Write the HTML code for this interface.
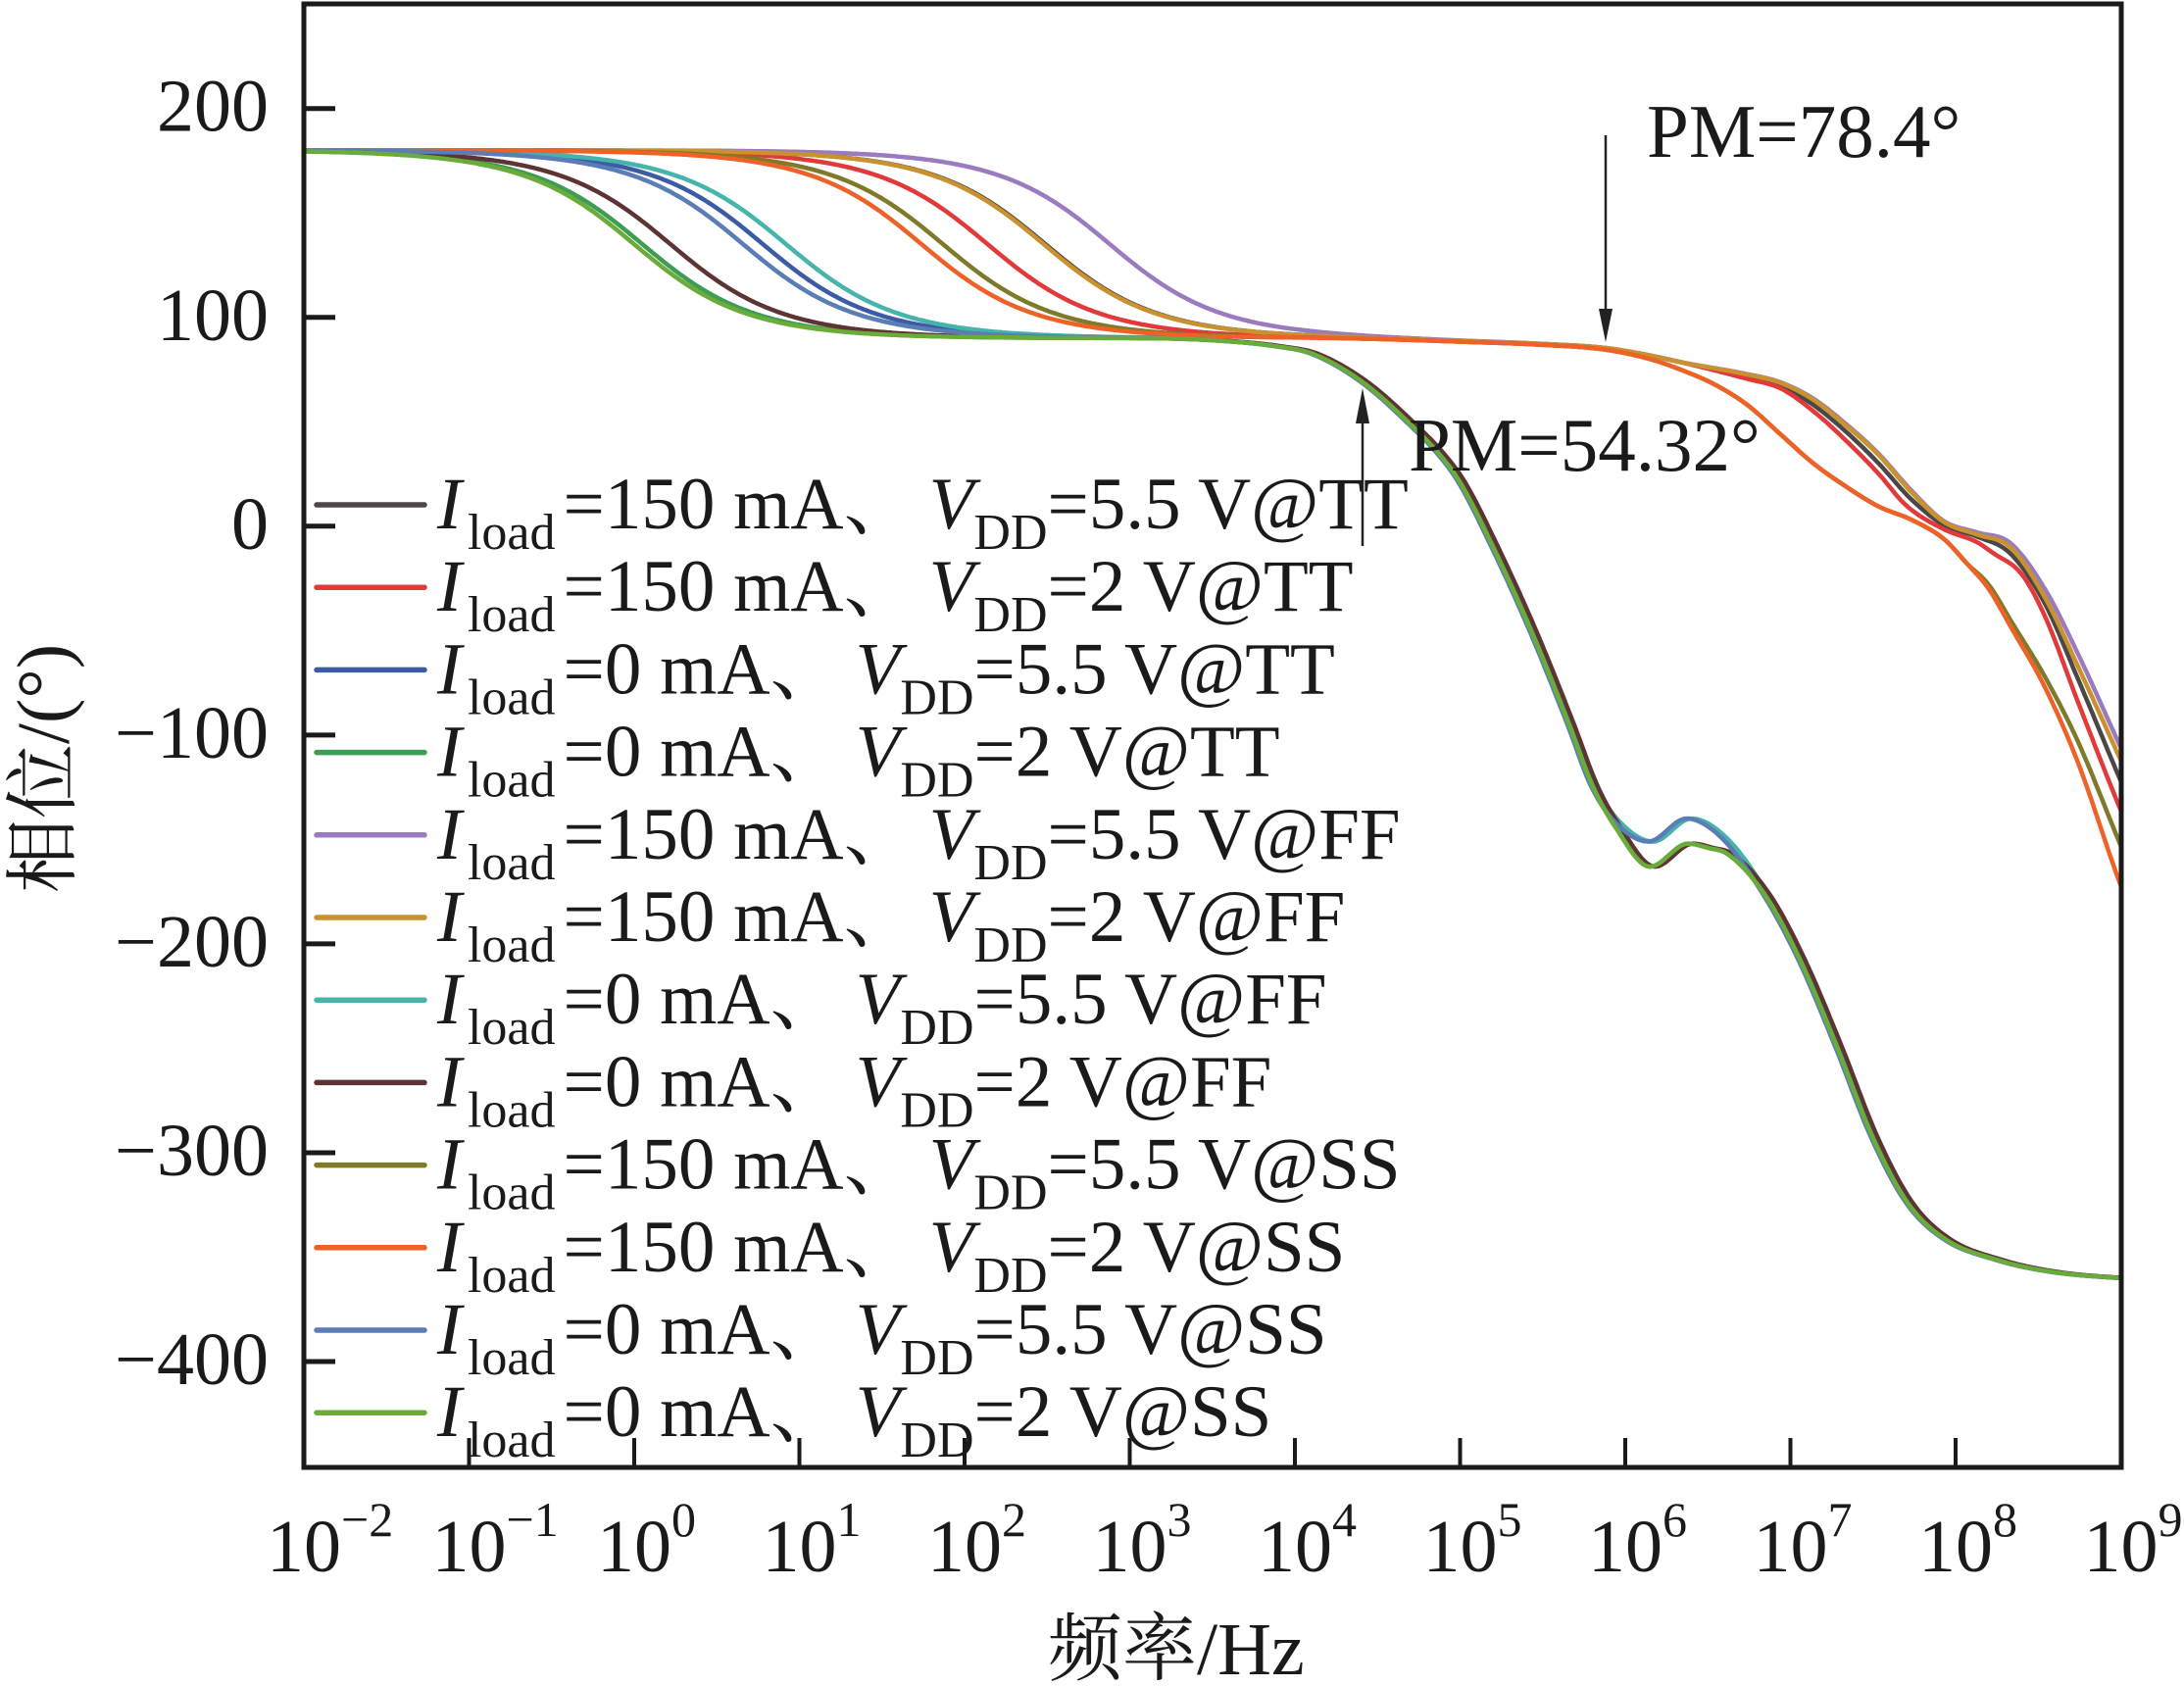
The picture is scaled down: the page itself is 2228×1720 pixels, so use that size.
<!DOCTYPE html>
<html>
<head>
<meta charset="utf-8">
<style>
  html, body { margin: 0; padding: 0; background: #ffffff; }
  svg { display: block; }
</style>
</head>
<body>
<svg id="chart" xmlns="http://www.w3.org/2000/svg" width="2228" height="1720" viewBox="0 0 2228 1720">
  <defs>
    <clipPath id="clip">
      <rect x="312" y="6" width="1850" height="1489"/>
    </clipPath>
  </defs>
  <rect x="0" y="0" width="2228" height="1720" fill="#ffffff"/>

  <!-- curves drawn by script -->
  <g id="curves" clip-path="url(#clip)" fill="none" stroke-width="4.5" stroke-linejoin="round" stroke-linecap="round"></g>

  <!-- frame -->
  <rect x="310" y="4" width="1854" height="1493" fill="none" stroke="#1a1a1a" stroke-width="5"/>

  <!-- y ticks -->
  <g stroke="#1a1a1a" stroke-width="5">
    <line x1="310" y1="110.7" x2="342" y2="110.7"/>
    <line x1="310" y1="323.75" x2="342" y2="323.75"/>
    <line x1="310" y1="536.8" x2="342" y2="536.8"/>
    <line x1="310" y1="749.85" x2="342" y2="749.85"/>
    <line x1="310" y1="962.9" x2="342" y2="962.9"/>
    <line x1="310" y1="1175.95" x2="342" y2="1175.95"/>
    <line x1="310" y1="1389" x2="342" y2="1389"/>
  </g>
  <!-- x ticks -->
  <g stroke="#1a1a1a" stroke-width="4">
    <line x1="478.5" y1="1497" x2="478.5" y2="1467"/>
    <line x1="647" y1="1497" x2="647" y2="1467"/>
    <line x1="815.5" y1="1497" x2="815.5" y2="1467"/>
    <line x1="984" y1="1497" x2="984" y2="1467"/>
    <line x1="1152.5" y1="1497" x2="1152.5" y2="1467"/>
    <line x1="1321" y1="1497" x2="1321" y2="1467"/>
    <line x1="1489.5" y1="1497" x2="1489.5" y2="1467"/>
    <line x1="1658" y1="1497" x2="1658" y2="1467"/>
    <line x1="1826.5" y1="1497" x2="1826.5" y2="1467"/>
    <line x1="1995" y1="1497" x2="1995" y2="1467"/>
  </g>

  <g font-family="'Liberation Serif','Noto Serif CJK SC',serif" fill="#1a1a1a">
    <!-- y tick labels -->
    <g font-size="76" text-anchor="end">
      <text x="274" y="133.7">200</text>
      <text x="274" y="346.75">100</text>
      <text x="274" y="559.8">0</text>
      <text x="274" y="772.85">−100</text>
      <text x="274" y="985.9">−200</text>
      <text x="274" y="1198.95">−300</text>
      <text x="274" y="1412">−400</text>
    </g>

    <!-- x tick labels -->
    <g font-size="76" text-anchor="middle">
      <text x="310" y="1603">10</text>
      <text x="478.5" y="1603">10</text>
      <text x="647" y="1603">10</text>
      <text x="815.5" y="1603">10</text>
      <text x="984" y="1603">10</text>
      <text x="1152.5" y="1603">10</text>
      <text x="1321" y="1603">10</text>
      <text x="1489.5" y="1603">10</text>
      <text x="1658" y="1603">10</text>
      <text x="1826.5" y="1603">10</text>
      <text x="1995" y="1603">10</text>
      <text x="2163.5" y="1603">10</text>
    </g>
    <g font-size="50">
      <text x="348" y="1567">−2</text>
      <text x="516.5" y="1567">−1</text>
      <text x="685" y="1567">0</text>
      <text x="853.5" y="1567">1</text>
      <text x="1022" y="1567">2</text>
      <text x="1190.5" y="1567">3</text>
      <text x="1359" y="1567">4</text>
      <text x="1527.5" y="1567">5</text>
      <text x="1696" y="1567">6</text>
      <text x="1864.5" y="1567">7</text>
      <text x="2033" y="1567">8</text>
      <text x="2201.5" y="1567">9</text>
    </g>

    <!-- axis titles -->
    <text x="1069" y="1708" font-size="76">频率/Hz</text>
    <text transform="translate(70,784) rotate(-90)" text-anchor="middle" font-size="76">相位/(°)</text>

    <!-- annotations -->
    <text x="1680" y="160" font-size="77">PM=78.4°</text>
    <text x="1437" y="480" font-size="77">PM=54.32°</text>

    <!-- legend text -->
    <g font-size="75">
      <text x="446" y="539"><tspan font-style="italic">I</tspan><tspan font-size="52" dx="6" dy="21">load</tspan><tspan dx="8" dy="-21">=150 mA、</tspan><tspan font-style="italic" dx="12">V</tspan><tspan font-size="52" dy="21">DD</tspan><tspan dy="-21">=5.5 V@TT</tspan></text>
      <text x="446" y="623.2"><tspan font-style="italic">I</tspan><tspan font-size="52" dx="6" dy="21">load</tspan><tspan dx="8" dy="-21">=150 mA、</tspan><tspan font-style="italic" dx="12">V</tspan><tspan font-size="52" dy="21">DD</tspan><tspan dy="-21">=2 V@TT</tspan></text>
      <text x="446" y="707.4"><tspan font-style="italic">I</tspan><tspan font-size="52" dx="6" dy="21">load</tspan><tspan dx="8" dy="-21">=0 mA、</tspan><tspan font-style="italic" dx="12">V</tspan><tspan font-size="52" dy="21">DD</tspan><tspan dy="-21">=5.5 V@TT</tspan></text>
      <text x="446" y="791.6"><tspan font-style="italic">I</tspan><tspan font-size="52" dx="6" dy="21">load</tspan><tspan dx="8" dy="-21">=0 mA、</tspan><tspan font-style="italic" dx="12">V</tspan><tspan font-size="52" dy="21">DD</tspan><tspan dy="-21">=2 V@TT</tspan></text>
      <text x="446" y="875.8"><tspan font-style="italic">I</tspan><tspan font-size="52" dx="6" dy="21">load</tspan><tspan dx="8" dy="-21">=150 mA、</tspan><tspan font-style="italic" dx="12">V</tspan><tspan font-size="52" dy="21">DD</tspan><tspan dy="-21">=5.5 V@FF</tspan></text>
      <text x="446" y="960"><tspan font-style="italic">I</tspan><tspan font-size="52" dx="6" dy="21">load</tspan><tspan dx="8" dy="-21">=150 mA、</tspan><tspan font-style="italic" dx="12">V</tspan><tspan font-size="52" dy="21">DD</tspan><tspan dy="-21">=2 V@FF</tspan></text>
      <text x="446" y="1044.2"><tspan font-style="italic">I</tspan><tspan font-size="52" dx="6" dy="21">load</tspan><tspan dx="8" dy="-21">=0 mA、</tspan><tspan font-style="italic" dx="12">V</tspan><tspan font-size="52" dy="21">DD</tspan><tspan dy="-21">=5.5 V@FF</tspan></text>
      <text x="446" y="1128.4"><tspan font-style="italic">I</tspan><tspan font-size="52" dx="6" dy="21">load</tspan><tspan dx="8" dy="-21">=0 mA、</tspan><tspan font-style="italic" dx="12">V</tspan><tspan font-size="52" dy="21">DD</tspan><tspan dy="-21">=2 V@FF</tspan></text>
      <text x="446" y="1212.6"><tspan font-style="italic">I</tspan><tspan font-size="52" dx="6" dy="21">load</tspan><tspan dx="8" dy="-21">=150 mA、</tspan><tspan font-style="italic" dx="12">V</tspan><tspan font-size="52" dy="21">DD</tspan><tspan dy="-21">=5.5 V@SS</tspan></text>
      <text x="446" y="1296.8"><tspan font-style="italic">I</tspan><tspan font-size="52" dx="6" dy="21">load</tspan><tspan dx="8" dy="-21">=150 mA、</tspan><tspan font-style="italic" dx="12">V</tspan><tspan font-size="52" dy="21">DD</tspan><tspan dy="-21">=2 V@SS</tspan></text>
      <text x="446" y="1381"><tspan font-style="italic">I</tspan><tspan font-size="52" dx="6" dy="21">load</tspan><tspan dx="8" dy="-21">=0 mA、</tspan><tspan font-style="italic" dx="12">V</tspan><tspan font-size="52" dy="21">DD</tspan><tspan dy="-21">=5.5 V@SS</tspan></text>
      <text x="446" y="1465.2"><tspan font-style="italic">I</tspan><tspan font-size="52" dx="6" dy="21">load</tspan><tspan dx="8" dy="-21">=0 mA、</tspan><tspan font-style="italic" dx="12">V</tspan><tspan font-size="52" dy="21">DD</tspan><tspan dy="-21">=2 V@SS</tspan></text>
    </g>
  </g>

  <!-- legend line samples -->
  <g stroke-width="5.5" stroke-linecap="round">
    <line x1="323" y1="515" x2="433" y2="515" stroke="#4b4747"/>
    <line x1="323" y1="599.2" x2="433" y2="599.2" stroke="#e2393b"/>
    <line x1="323" y1="683.4" x2="433" y2="683.4" stroke="#3b5ba5"/>
    <line x1="323" y1="767.6" x2="433" y2="767.6" stroke="#3f9c55"/>
    <line x1="323" y1="851.8" x2="433" y2="851.8" stroke="#9b7bbf"/>
    <line x1="323" y1="936" x2="433" y2="936" stroke="#c9922f"/>
    <line x1="323" y1="1020.2" x2="433" y2="1020.2" stroke="#45b5ab"/>
    <line x1="323" y1="1104.4" x2="433" y2="1104.4" stroke="#5e3333"/>
    <line x1="323" y1="1188.6" x2="433" y2="1188.6" stroke="#7f7a2a"/>
    <line x1="323" y1="1272.8" x2="433" y2="1272.8" stroke="#ee6228"/>
    <line x1="323" y1="1357" x2="433" y2="1357" stroke="#5b7db5"/>
    <line x1="323" y1="1441.2" x2="433" y2="1441.2" stroke="#6aac3a"/>
  </g>

  <!-- arrows -->
  <g stroke="#222" stroke-width="2.5" fill="#222">
    <line x1="1638" y1="138" x2="1638" y2="322"/>
    <polygon points="1631,315 1645,315 1638,349" stroke="none"/>
    <line x1="1390" y1="557" x2="1390" y2="426"/>
    <polygon points="1383,432 1397,432 1390,396" stroke="none"/>
  </g>
</svg>

<script>
(function(){
  var X = function(t){ return 310 + (t + 2) * 168.5; };
  var Y = function(v){ return 536.8 - 2.1305 * v; };

  function mono(pts){
    var n = pts.length, xs = [], ys = [], d = [], m = [], i;
    for (i = 0; i < n; i++){ xs.push(pts[i][0]); ys.push(pts[i][1]); }
    for (i = 0; i < n - 1; i++) d[i] = (ys[i+1] - ys[i]) / (xs[i+1] - xs[i]);
    m[0] = d[0]; m[n-1] = d[n-2];
    for (i = 1; i < n - 1; i++){
      if (d[i-1] * d[i] <= 0) m[i] = 0; else m[i] = (d[i-1] + d[i]) / 2;
    }
    for (i = 0; i < n - 1; i++){
      if (d[i] === 0){ m[i] = 0; m[i+1] = 0; continue; }
      var a = m[i] / d[i], b = m[i+1] / d[i], s = a*a + b*b;
      if (s > 9){ var tt = 3 / Math.sqrt(s); m[i] = tt * a * d[i]; m[i+1] = tt * b * d[i]; }
    }
    return function(x){
      if (x <= xs[0]) return ys[0];
      if (x >= xs[n-1]) return ys[n-1];
      var k = 0;
      while (k < n - 2 && x > xs[k+1]) k++;
      var h = xs[k+1] - xs[k], t = (x - xs[k]) / h;
      var t2 = t*t, t3 = t2*t;
      return (2*t3 - 3*t2 + 1) * ys[k] + (t3 - 2*t2 + t) * h * m[k]
           + (-2*t3 + 3*t2) * ys[k+1] + (t3 - t2) * h * m[k+1];
    };
  }

  var pre150 = [[-3,90],[4.0,90],[4.5,89.5],[5.0,88.5],[5.5,87.2],[5.88,85.3],[6.1,82.5],[6.35,78.3]];
  var Hpurple = mono(pre150.concat([[6.74,72.8],[6.94,68.9],[7.14,61],[7.34,48.7],[7.535,34.6],[7.73,17.3],[7.93,2.4],[8.13,-3],[8.33,-8],[8.54,-30],[8.74,-61],[9.0,-106],[9.2,-140]]));
  var Hgold   = mono(pre150.concat([[6.74,72.6],[6.94,68.6],[7.14,60.5],[7.34,48],[7.535,34],[7.73,16.5],[7.93,2],[8.13,-4],[8.33,-10],[8.54,-34],[8.74,-67],[9.0,-112],[9.2,-146]]));
  var Hgray   = mono(pre150.concat([[6.74,72],[6.94,67.5],[7.14,58],[7.34,45],[7.535,30],[7.73,13],[7.93,0.5],[8.13,-5],[8.33,-13],[8.54,-37],[8.74,-73],[9.0,-122],[9.2,-158]]));
  var Hred    = mono(pre150.concat([[6.74,70.5],[6.94,66],[7.14,55],[7.34,40.7],[7.535,25],[7.70,10],[7.93,-1.5],[8.13,-7.7],[8.23,-13],[8.40,-23],[8.54,-43],[8.74,-84],[9.0,-136],[9.2,-172]]));

  var preSS = [[-3,90],[4.0,90],[4.5,89.5],[5.0,88.3],[5.5,86.8],[5.88,84.5],[6.15,80],[6.35,74.5],[6.55,67.5],[6.74,58],[6.94,44],[7.14,30],[7.34,18.8],[7.535,9.4],[7.73,3.2],[7.93,-6.2],[8.07,-18]];
  var Holive  = mono(preSS.concat([[8.2,-28],[8.34,-46],[8.54,-72],[8.74,-103],[9.0,-153],[9.2,-190]]));
  var Horange = mono(preSS.concat([[8.2,-30],[8.34,-49],[8.54,-77],[8.74,-113],[9.0,-172],[9.2,-210]]));

  var pre0 = [[-3,90],[3.0,90],[3.5,89],[3.9,86],[4.11,82.5],[4.41,69],[4.71,48],[4.88,34],[5.0,21],[5.2,-10],[5.43,-50],[5.66,-95],[5.80,-124]];
  var tail0 = [[6.85,-177],[7.06,-208],[7.28,-249],[7.50,-293],[7.71,-324],[7.93,-341],[8.26,-351.5],[8.58,-357],[9.0,-360],[9.2,-360.5]];
  var H0B = mono(pre0.concat([[5.94,-141],[6.15,-151],[6.38,-140],[6.59,-149]]).concat(tail0));
  var H0G = mono(pre0.concat([[5.94,-144],[6.15,-163],[6.38,-152],[6.5,-154],[6.62,-157]]).concat(tail0));

  var curves = [
    {c:'#4b4747', p:2.49, H:Hgray,   s:0},
    {c:'#e2393b', p:2.14, H:Hred,    s:0},
    {c:'#3b5ba5', p:0.78, H:H0B,     s:0},
    {c:'#3f9c55', p:0.05, H:H0G,     s:0},
    {c:'#9b7bbf', p:2.88, H:Hpurple, s:0},
    {c:'#c9922f', p:2.48, H:Hgold,   s:0},
    {c:'#45b5ab', p:0.92, H:H0B,     s:0.02},
    {c:'#5e3333', p:0.22, H:H0G,     s:0.03},
    {c:'#7f7a2a', p:1.87, H:Holive,  s:0},
    {c:'#ee6228', p:1.74, H:Horange, s:0},
    {c:'#5b7db5', p:0.66, H:H0B,     s:-0.01},
    {c:'#6aac3a', p:0.00, H:H0G,     s:0}
  ];

  var g = document.getElementById('curves');
  var NS = 'http://www.w3.org/2000/svg';
  curves.forEach(function(cv){
    var d = '';
    for (var i = 0; i <= 1100; i++){
      var t = -2 + i * 0.01;
      var v = cv.H(t - cv.s) + 90 - Math.atan(Math.pow(10, t - cv.p)) * 180 / Math.PI;
      d += (i === 0 ? 'M' : 'L') + X(t).toFixed(1) + ',' + Y(v).toFixed(1);
    }
    var p = document.createElementNS(NS, 'path');
    p.setAttribute('d', d);
    p.setAttribute('stroke', cv.c);
    g.appendChild(p);
  });
})();
</script>
</body>
</html>
